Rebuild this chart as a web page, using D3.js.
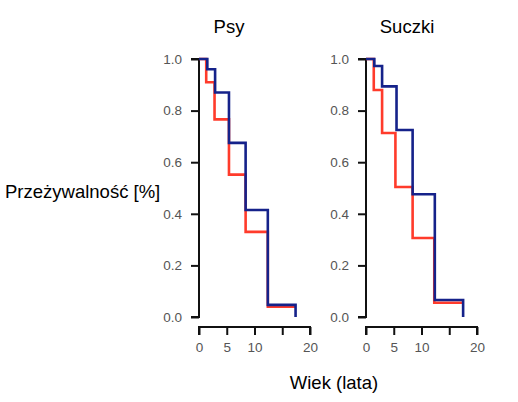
<!DOCTYPE html>
<html lang="pl">
<head>
<meta charset="utf-8" />
<title>Przeżywalność</title>
<script src="https://cdn.jsdelivr.net/npm/d3@7"></script>
<style>
    body { margin: 0; background: #fff; }
    svg { display: block; font-family: "Liberation Sans", Arial, sans-serif; }
    .tick text { fill: #555; font-size: 13.5px; }
</style>
</head>
<body>
<svg id="chart" width="518" height="402"></svg>
<script>
// panel titles
const panels = ["Psy", "Suczki"];

// step times (years) and survival for each panel
const psyBlueTimes = [0, 1.5, 2.9, 5.4, 8.4, 12.4, 17.4];
const psyBlueSurv  = [1.0, 0.96, 0.87, 0.675, 0.415, 0.047, 0.0];
const psyRedTimes  = [0, 1.3, 2.8, 5.4, 8.4, 12.4, 17.4];
const psyRedSurv   = [1.0, 0.91, 0.766, 0.552, 0.33, 0.04, 0.04];

const suczkiBlueTimes = [0, 1.5, 2.9, 5.5, 8.4, 12.4, 17.5];
const suczkiBlueSurv  = [1.0, 0.973, 0.894, 0.725, 0.476, 0.066, 0.0];
const suczkiRedTimes  = [0, 1.4, 2.9, 5.3, 8.4, 12.3, 17.5];
const suczkiRedSurv   = [1.0, 0.88, 0.713, 0.504, 0.306, 0.055, 0.055];

const xTicks = [0, 5, 10, 15, 20];
const xTickLabels = ["0", "5", "10", "", "20"];
const yTicks = [0, 0.2, 0.4, 0.6, 0.8, 1.0];

const series = [
    [{ t: psyRedTimes, s: psyRedSurv, color: "#ff3b2b" },
     { t: psyBlueTimes, s: psyBlueSurv, color: "#15228a" }],
    [{ t: suczkiRedTimes, s: suczkiRedSurv, color: "#ff3b2b" },
     { t: suczkiBlueTimes, s: suczkiBlueSurv, color: "#15228a" }]
];

const svg = d3.select("#chart");
const panelLeft = [199, 366];
const titleCenter = [229, 407];
const panelWidth = 111;
const plotTop = 59, plotBottom = 317;

const y = d3.scaleLinear().domain([0, 1]).range([plotBottom, plotTop]);

panels.forEach((name, i) => {
    const x = d3.scaleLinear().domain([0, 20]).range([panelLeft[i], panelLeft[i] + panelWidth]);

    // y axis
    const gy = svg.append("g").attr("transform", `translate(${panelLeft[i]},0)`)
        .call(d3.axisLeft(y).tickValues(yTicks).tickFormat(d3.format(".1f")).tickSize(8).tickPadding(9));
    gy.selectAll("path, line").attr("stroke", "#111").attr("stroke-width", 2);
    gy.select(".domain").attr("d", `M-8,${y(0)}H0V${y(1)}H-8`);

    // x axis
    const gx = svg.append("g").attr("transform", `translate(0,327)`)
        .call(d3.axisBottom(x).tickValues(xTicks).tickFormat((d, k) => xTickLabels[k]).tickSize(8).tickPadding(7));
    gx.selectAll("path, line").attr("stroke", "#111").attr("stroke-width", 2);
    gx.select(".domain").attr("d", `M${x(0)},8V0H${x(20)}V8`);

    // survival steps
    series[i].forEach(sr => {
        const pts = sr.t.map((t, k) => [t, sr.s[k]]);
        const line = d3.line().x(d => x(d[0])).y(d => y(d[1])).curve(d3.curveStepAfter);
        svg.append("path")
            .attr("d", line(pts))
            .attr("fill", "none")
            .attr("stroke", sr.color)
            .attr("stroke-width", 2.6);
    });

    svg.append("text")
        .attr("x", titleCenter[i])
        .attr("y", 33)
        .attr("text-anchor", "middle")
        .attr("font-size", 18.5)
        .text(name);
});

svg.append("text").attr("x", 5).attr("y", 198).attr("font-size", 18.5).text("Przeżywalność [%]");
svg.append("text").attr("x", 334).attr("y", 389).attr("text-anchor", "middle").attr("font-size", 18.5).text("Wiek (lata)");
</script>
</body>
</html>
